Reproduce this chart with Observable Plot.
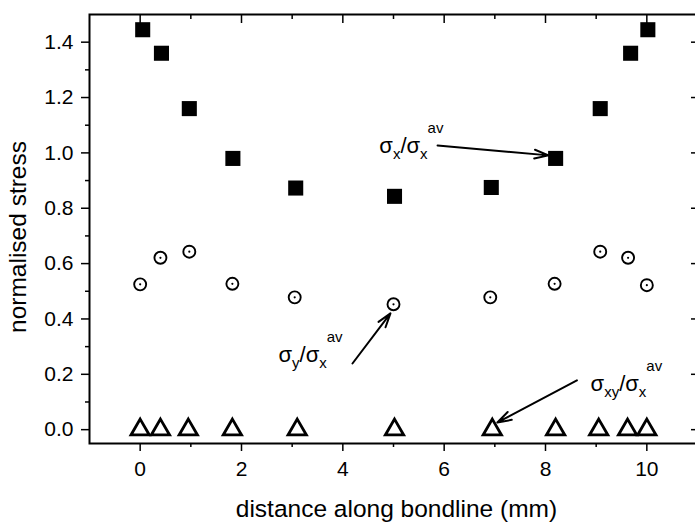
<!DOCTYPE html>
<html><head><meta charset="utf-8">
<script src="https://cdn.jsdelivr.net/npm/d3@7"></script>
<script src="https://cdn.jsdelivr.net/npm/@observablehq/plot@0.6"></script>
<style>body{margin:0;background:#fff}</style>
</head><body><div id="chart"></div>
<script>
// σx / σx_av (filled squares)
const sxX = [0.05, 0.42, 0.97, 1.83, 3.07, 5.02, 6.93, 8.20, 9.08, 9.68, 10.02];
const sxY = [1.445, 1.36, 1.16, 0.98, 0.873, 0.843, 0.875, 0.98, 1.16, 1.36, 1.445];
// σy / σx_av (dotted circles)
const syX = [0.0, 0.40, 0.97, 1.82, 3.05, 5.0, 6.91, 8.18, 9.08, 9.63, 10.0];
const syY = [0.525, 0.621, 0.643, 0.527, 0.478, 0.453, 0.478, 0.527, 0.643, 0.621, 0.522];
// σxy / σx_av (open triangles)
const sxyX = [0.0, 0.40, 0.95, 1.82, 3.10, 5.02, 6.95, 8.20, 9.05, 9.62, 10.0];
const sxyY = [0, 0, 0, 0, 0, 0, 0, 0, 0, 0, 0];

const xMajor = [0, 2, 4, 6, 8, 10];
const xMinor = [1, 3, 5, 7, 9];
const yMajor = [0.0, 0.2, 0.4, 0.6, 0.8, 1.0, 1.2, 1.4];
const yMinor = [0.1, 0.3, 0.5, 0.7, 0.9, 1.1, 1.3];

const xLabel = "distance along bondline (mm)";
const yLabel = "normalised stress";

// annotations: rich label, anchor in data coordinates
const annText = ["σ_{x}/σ_{x}^{av}", "σ_{y}/σ_{x}^{av}", "σ_{xy}/σ_{x}^{av}"];
const annX = [4.72, 2.73, 8.89];
const annY = [0.998, 0.243, 0.138];
// arrows from label to points
const arrX1 = [5.87, 4.19, 8.62];
const arrY1 = [1.027, 0.239, 0.178];
const arrX2 = [8.06, 4.94, 7.05];
const arrY2 = [0.991, 0.420, 0.026];

const sq = sxX.map((x, i) => ({x, y: sxY[i]}));
const ci = syX.map((x, i) => ({x, y: syY[i]}));
const tr = sxyX.map((x, i) => ({x, y: sxyY[i]}));
const ann = annText.map((t, i) => ({t, x: annX[i], y: annY[i]}));
const arr = arrX1.map((x1, i) => ({x1, y1: arrY1[i], x2: arrX2[i], y2: arrY2[i]}));

const font = "'Liberation Sans', Arial, sans-serif";

const chart = Plot.plot({
  width: 695,
  height: 523,
  marginLeft: 89,
  marginRight: -2,
  marginTop: 14,
  marginBottom: 80,
  style: {fontFamily: font, background: "#fff", color: "#000"},
  x: {domain: [-1, 11]},
  y: {domain: [-0.05, 1.5]},
  marks: [
    Plot.axisX(xMajor, {anchor: "bottom", tickSize: 8, text: null, label: null, strokeWidth: 1.5}),
    Plot.axisX(xMinor, {anchor: "bottom", tickSize: 4, text: null, label: null, strokeWidth: 1.5}),
    Plot.axisX(xMajor, {anchor: "top", tickSize: -8, text: null, label: null, strokeWidth: 1.5}),
    Plot.axisX(xMinor, {anchor: "top", tickSize: -4, text: null, label: null, strokeWidth: 1.5}),
    Plot.axisY(yMajor, {anchor: "left", tickSize: 8, text: null, label: null, strokeWidth: 1.5}),
    Plot.axisY(yMinor, {anchor: "left", tickSize: 4, text: null, label: null, strokeWidth: 1.5}),
    Plot.axisY(yMajor, {anchor: "right", tickSize: -7, text: null, label: null, strokeWidth: 1.5}),
    Plot.axisY(yMinor, {anchor: "right", tickSize: -3, text: null, label: null, strokeWidth: 1.5}),
    Plot.frame({stroke: "#000", strokeWidth: 2}),
    // tick labels
    Plot.text(xMajor, {x: d => d, frameAnchor: "bottom", lineAnchor: "top", dy: 18, text: d => String(d), fontSize: 21}),
    Plot.text(yMajor, {y: d => d, frameAnchor: "left", textAnchor: "end", dx: -16, text: d3.format(".1f"), fontSize: 21}),
    // axis titles
    Plot.text([xLabel], {frameAnchor: "bottom", text: d => d, dy: 73, dx: 3, fontSize: 24.5, lineAnchor: "bottom"}),
    Plot.text([yLabel], {frameAnchor: "left", text: d => d, rotate: -90, textAnchor: "middle", dx: -71, dy: 8, fontSize: 24.5}),
    // data
    Plot.dot(tr, {x: "x", y: "y", symbol: "triangle", r: 6.8, stroke: "#000", strokeWidth: 2.8, fill: "none"}),
    Plot.dot(ci, {x: "x", y: "y", symbol: "circle", r: 6, stroke: "#000", strokeWidth: 1.9, fill: "none"}),
    Plot.dot(ci, {x: "x", y: "y", r: 1.1, fill: "#000"}),
    Plot.dot(sq, {x: "x", y: "y", symbol: "square", r: 8.5, fill: "#000"}),
    // annotations
    Plot.arrow(arr, {x1: "x1", y1: "y1", x2: "x2", y2: "y2", stroke: "#000", strokeWidth: 2, headLength: 11, headAngle: 35}),
    Plot.text(ann, {x: "x", y: "y", text: "t", textAnchor: "start", lineAnchor: "bottom", fontSize: 22})
  ]
});

// convert _{..} and ^{..} into real sub/superscript tspans
const svgns = "http://www.w3.org/2000/svg";
d3.select(chart).selectAll("text").filter(function() { return /[_^]\{/.test(this.textContent); }).each(function() {
  const str = this.textContent;
  while (this.firstChild) this.removeChild(this.firstChild);
  let cur = 0;
  for (const m of str.matchAll(/([_^])\{([^}]*)\}|([^_^]+)/g)) {
    let target = 0, content, size = null;
    if (m[1] === "_") { target = 6; content = m[2]; size = 15; }
    else if (m[1] === "^") { target = -20; content = m[2]; size = 15; }
    else { content = m[3]; }
    const t = document.createElementNS(svgns, "tspan");
    t.setAttribute("dy", target - cur);
    cur = target;
    if (size) t.setAttribute("font-size", size);
    t.textContent = content;
    this.appendChild(t);
  }
});

document.getElementById("chart").appendChild(chart);
</script>
</body></html>
